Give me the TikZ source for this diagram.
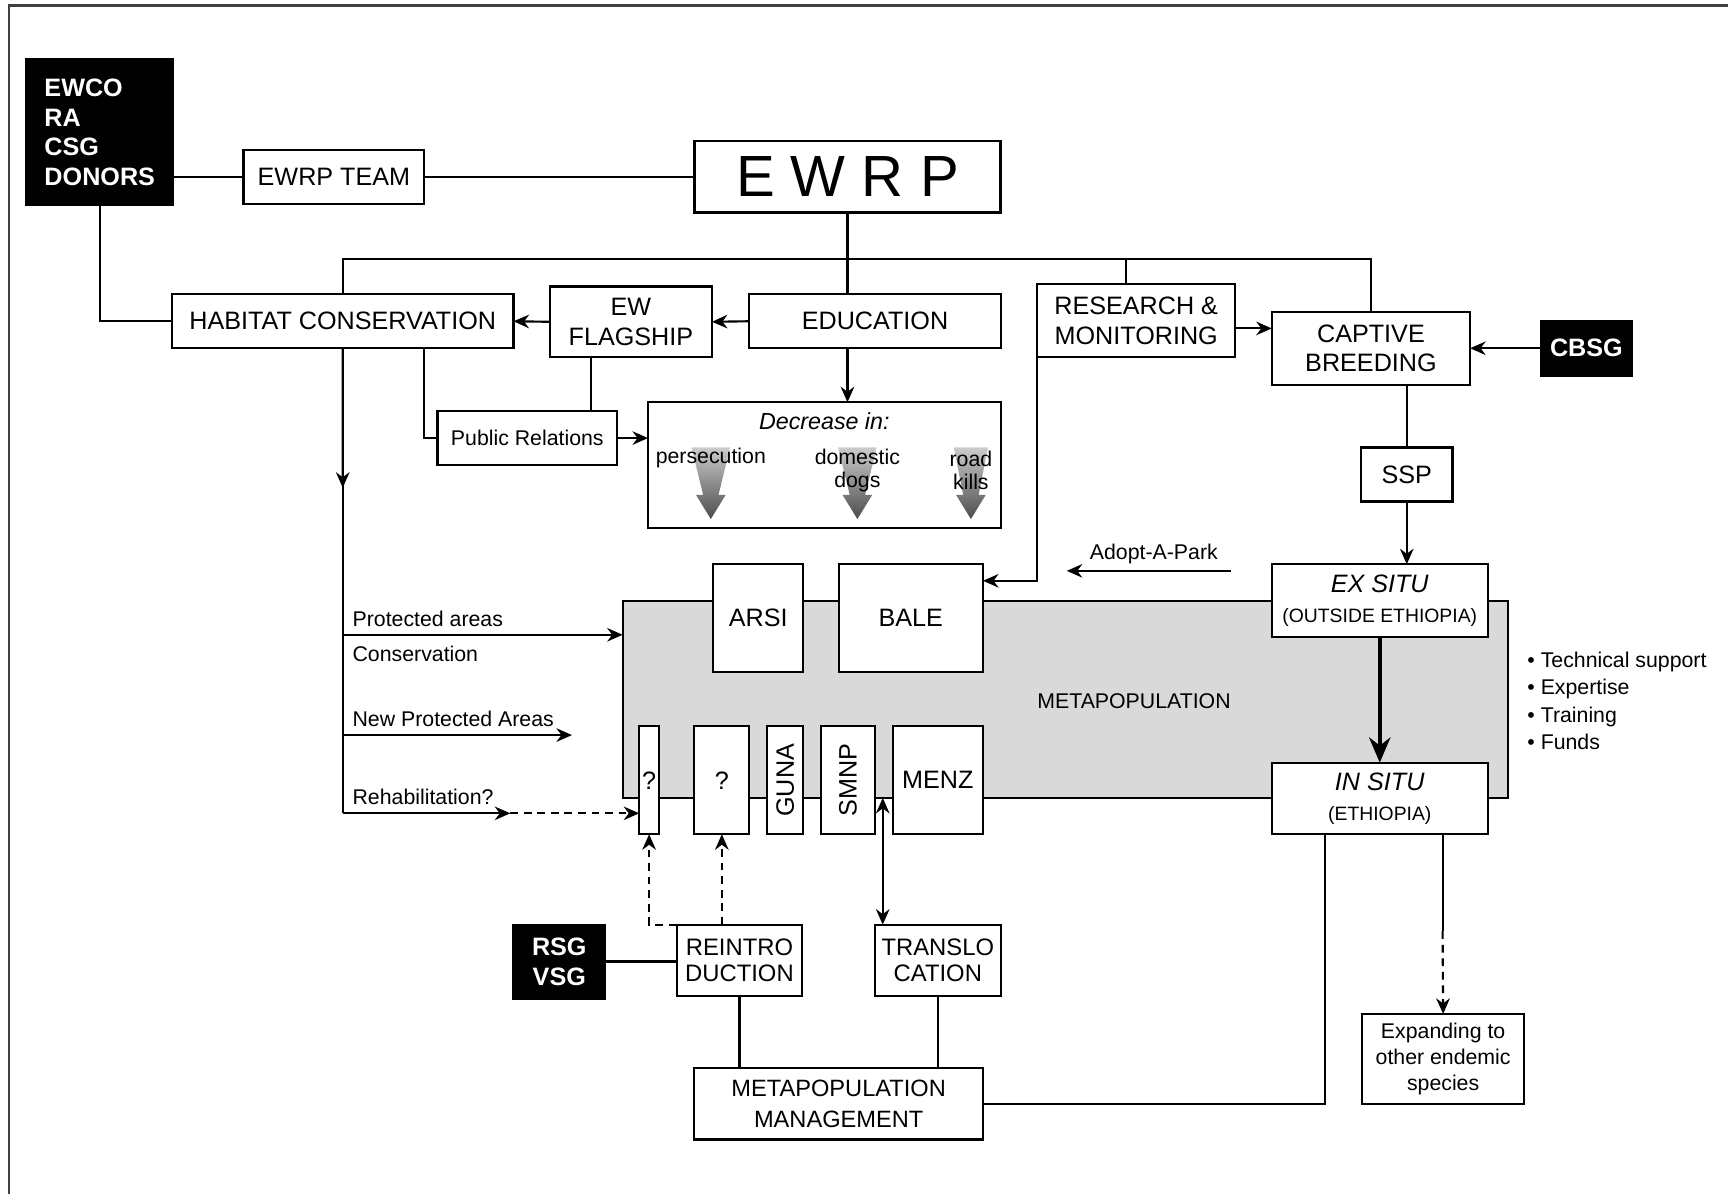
\documentclass[tikz,border=0pt]{standalone}
\usepackage{fontspec}
\setmainfont{Liberation Sans}
\usetikzlibrary{arrows.meta,calc}
\def\rbox[#1](#2)(#3,#4)(#5,#6)#7{\node[#1, minimum width={(#5-#3)*0.02cm}, minimum height={(#6-#4)*0.02cm}] (#2) at ({(#3+#5)/2},{(#4+#6)/2}) {#7};}

\begin{document}
\begin{tikzpicture}[x=0.02cm, y=-0.02cm, line width=1.1pt,
		box/.style={draw, fill=white, line width=1.1pt, inner sep=0pt, outer sep=0pt, align=center, font=\fontsize{13}{15.3}\selectfont},
		blk/.style={box, fill=black, text=white, font=\bfseries\fontsize{13}{15.3}\selectfont},
		lbl/.style={inner sep=0pt, anchor=west, font=\fontsize{11}{13}\selectfont},
		txt/.style={inner sep=0pt, align=center, font=\fontsize{11}{12}\selectfont},
		arr/.style={-{Stealth[length=8pt,width=7pt]}},
		bigarr/.style={line width=2.3pt, -{Stealth[length=13pt,width=11pt]}},
		dashed/.style={dash pattern=on 4pt off 3pt}]
		%%%%% START %%%%%
		\useasboundingbox (0,0) rectangle (1568,1083);
		\draw[black!75] (8,1083) -- (8,5) -- (1568,5);
		
		\rbox[box, fill=black!15](metapop)(565,545)(1368,724){}
		\node[font=\fontsize{11}{13}\selectfont] (metalabel) at (1029,636) {METAPOPULATION};
		
		\rbox[blk, align=left](donors)(24,54)(157,186){EWCO\\RA\\CSG\\DONORS}
		\rbox[box](team)(221,136)(385,185){EWRP TEAM}
		\rbox[box, line width=1.4pt](ewrp)(630,128)(908,193){\fontsize{30}{36}\selectfont E W R P}
		
		\rbox[box](habitat)(156,267)(466,316){HABITAT CONSERVATION}
		\rbox[box](flagship)(499,260)(646,324){EW\\FLAGSHIP}
		\rbox[box](education)(680,267)(908,316){EDUCATION}
		\rbox[box](research)(941,258)(1121,324){RESEARCH \&\\MONITORING}
		\rbox[box](captive)(1154,283)(1334,349){CAPTIVE\\BREEDING}
		\rbox[blk](cbsg)(1398,291)(1481,341){CBSG}
		\rbox[box, font=\fontsize{11}{13}\selectfont](pr)(397,373)(560,422){Public Relations}
		\rbox[box, fill=none](decrease)(588,365)(908,479){}
		\rbox[box](ssp)(1235,406)(1318,455){SSP}
		
		\rbox[box](arsi)(647,512)(729,610){ARSI}
		\rbox[box](bale)(761,512)(892,610){BALE}
		\rbox[box](q1)(580,659)(598,757){?}
		\rbox[box](q2)(630,659)(680,757){?}
		\rbox[box](guna)(696,659)(729,757){\rotatebox{90}{GUNA}}
		\rbox[box](smnp)(745,659)(794,757){\rotatebox{90}{SMNP}}
		\rbox[box](menz)(810,659)(892,757){MENZ}
		\rbox[box](exsitu)(1154,512)(1350,578){\textit{EX SITU}\\{\fontsize{10}{12}\selectfont(OUTSIDE ETHIOPIA)}}
		\rbox[box](insitu)(1154,692)(1350,757){\textit{IN SITU}\\{\fontsize{10}{12}\selectfont(ETHIOPIA)}}
		
		\rbox[blk](rsg)(466,839)(549,906){RSG\\VSG}
		\rbox[box, font=\fontsize{12.3}{13.6}\selectfont](reintro)(614,839)(728,904){REINTRO\\DUCTION}
		\rbox[box, font=\fontsize{12.3}{13.6}\selectfont](transl)(794,839)(908,904){TRANSLO\\CATION}
		\rbox[box, font=\fontsize{12.2}{16}\selectfont](mgmt)(630,969)(892,1034){METAPOPULATION\\MANAGEMENT}
		\rbox[box, font=\fontsize{11}{13.3}\selectfont](expand)(1236,920)(1383,1002){Expanding to\\other endemic\\species}
		
		% decrease arrows
		\foreach \cx/\hw in {645/17.5, 778/17.5, 881/15.5}
			\shade[top color=black!20, bottom color=black!70] (\cx-\hw,406) -- (\cx+\hw,406) -- (\cx+7,449) -- (\cx+13.5,449) -- (\cx,471) -- (\cx-13.5,449) -- (\cx-7,449) -- cycle;
		\node[font=\itshape\fontsize{12}{14}\selectfont] (dectitle) at (748,382) {Decrease in:};
		\node[txt] (persec) at (645,416) {persecution};
		\node[txt] (dogs) at (778,427) {domestic\\dogs};
		\node[txt] (roads) at (881,427) {road\\kills};
		
		\node[lbl] (lpa) at (319,562) {Protected areas};
		\node[lbl] (lcons) at (319,593) {Conservation};
		\node[lbl] (lnpa) at (319,652) {New Protected Areas};
		\node[lbl] (lrehab) at (319,723) {Rehabilitation?};
		\node[lbl, anchor=center] (ladopt) at (1047,503) {Adopt-A-Park};
		\node[lbl, align=left, font=\fontsize{11}{14}\selectfont] (support) at (1385,636) {\textbullet{} Technical support\\\textbullet{} Expertise\\\textbullet{} Training\\\textbullet{} Funds};
		
		% connectors
		\coordinate (bus) at (769,235);
		\coordinate (pa) at (311,576);
		\coordinate (npa) at (311,667);
		\coordinate (npaend) at (519,667);
		\coordinate (rh) at (311,738);
		\coordinate (rhmid) at (463,738);
		\coordinate (adoptR) at (1117,518);
		\coordinate (adoptL) at (968,518);
		\coordinate (expbreak) at (1309,845);
		
		\draw (team.west) -- (team.west -| donors.east);
		\draw (team.east) -- (ewrp.west);
		\draw (donors.south) |- (habitat.west);
		\draw (ewrp.south) -- (bus) -- (bus |- education.north);
		\draw (habitat.north) |- (bus) -| (captive.north);
		\draw ([xshift=-0.18cm]research.north) -- ([xshift=-0.18cm]research.north |- bus);
		\draw[arr] (education.west) -- (flagship.east);
		\draw[arr] (flagship.west) -- (habitat.east);
		\draw[arr] (bus |- education.south) -- (bus |- decrease.north);
		\draw ([xshift=1.48cm]habitat.south) |- (pr.west);
		\draw ([xshift=-0.73cm]flagship.south) -- ([xshift=-0.73cm]flagship.south |- pr.north);
		\draw[arr] (pr.east) -- (pr.east -| decrease.west);
		
		\draw (habitat.south) -- (rh);
		\draw[arr] (habitat.south) -- ($(habitat.south)!0.3!(rh)$);
		\draw[arr] (pa) -- (pa -| metapop.west);
		\draw[arr] (npa) -- (npaend);
		\draw[arr] (rh) -- (rhmid);
		\draw[arr, dashed] (rhmid) -- (rhmid -| q1.west);
		
		\draw[arr] (research.south west) |- ([yshift=0.68cm]bale.east);
		\draw[arr] ([yshift=-0.14cm]research.east) -- ([yshift=-0.14cm]research.east -| captive.west);
		\draw[arr] (cbsg.west) -- (captive.east);
		\draw (ssp.north) -- (ssp.north |- captive.south);
		\draw[arr] (ssp.south) -- (ssp.south |- exsitu.north);
		\draw[arr] (adoptR) -- (adoptL);
		\draw[bigarr] (exsitu.south) -- (insitu.north);
		\draw ([xshift=-1cm]insitu.south) |- (mgmt.east);
		\draw (expbreak |- insitu.south) -- (expbreak);
		\draw[arr, dashed] (expbreak) -- (expand.north);
		
		\draw (reintro.south) -- (reintro.south |- mgmt.north);
		\draw (transl.south) -- (transl.south |- mgmt.north);
		\draw (rsg.east) -- (rsg.east -| reintro.west);
		\draw[arr, dashed] (q2.south |- reintro.north) -- (q2.south);
		\draw[arr, dashed] (reintro.north west) -| (q1.south);
		\draw[{Stealth[length=8pt,width=7pt]}-{Stealth[length=8pt,width=7pt]}] ([xshift=0.14cm]transl.north west) -- ([xshift=0.14cm]transl.north west |- metapop.south);
		%%%%% END %%%%%
\end{tikzpicture}
\end{document}
